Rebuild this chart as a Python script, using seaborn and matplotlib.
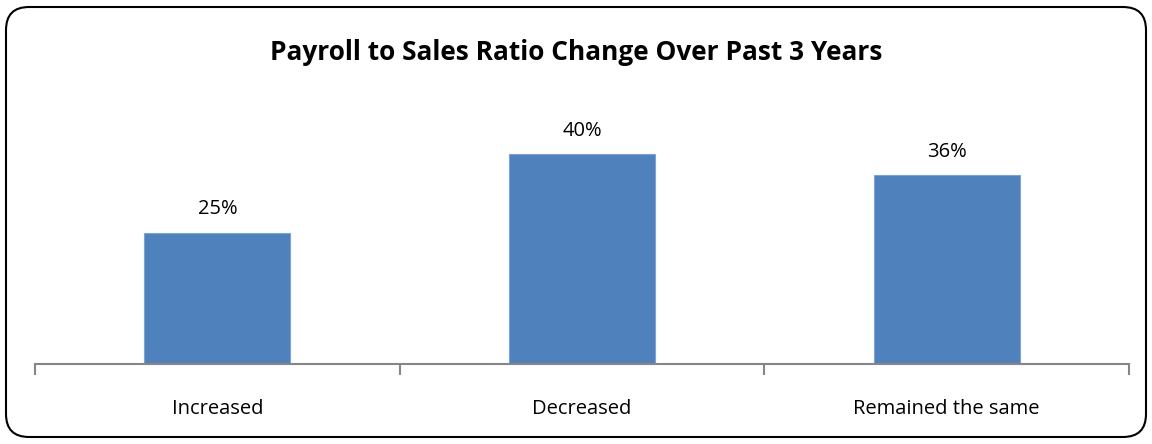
import matplotlib
matplotlib.use("Agg")
import matplotlib.pyplot as plt
import seaborn as sns
import pandas as pd
from matplotlib.patches import FancyBboxPatch

categories = ["Increased", "Decreased", "Remained the same"]
values = [25, 40, 36]
labels = ["25%", "40%", "36%"]
title = "Payroll to Sales Ratio Change Over Past 3 Years"

sns.set_style("white")
plt.rcParams['font.family'] = ['Open Sans', 'DejaVu Sans']
plt.rcParams['text.color'] = 'black'
plt.rcParams['xtick.color'] = 'black'

fig = plt.figure(figsize=(11.52, 4.44), dpi=100)
ax = fig.add_axes([35/1152, 80/444, (1129-35)/1152, 262/444])

df = pd.DataFrame({"cat": categories, "val": values})
sns.barplot(data=df, x="cat", y="val", color="#4F81BD", width=0.4, saturation=1,
            ax=ax, edgecolor="#7FA3D0", linewidth=0.8)

for i, (v, l) in enumerate(zip(values, labels)):
    ax.text(i, v + 2.6, l, ha="center", va="bottom", fontsize=14.5, color="black")

ax.set_ylim(0, 50)
ax.set_xlim(-0.5, 2.5)
ax.set_xlabel("")
ax.set_ylabel("")
ax.set_yticks([])
for s in ["top", "right", "left"]:
    ax.spines[s].set_visible(False)
ax.spines["bottom"].set_color("#868686")
ax.spines["bottom"].set_linewidth(1.5)

ax.set_xticks([-0.5, 0.5, 1.5, 2.5])
ax.set_xticklabels([])
ax.tick_params(axis="x", which="major", length=8, width=1.5, color="#868686", direction="out", bottom=True)
ax.set_xticks([0, 1, 2], minor=True)
ax.set_xticklabels(categories, minor=True)
ax.tick_params(axis="x", which="minor", length=0, pad=25, labelsize=14.5, labelcolor="black")

fig.text(0.5, 1 - 52/444, title, ha="center", va="center", fontsize=18.9, fontweight="bold", color="black")

box = FancyBboxPatch((6/1152, 7/444), (1146-6)/1152, (437-7)/444,
                     boxstyle="round,pad=0,rounding_size=0.02",
                     transform=fig.transFigure, fill=False, edgecolor="black", linewidth=1.5,
                     mutation_aspect=1152/444)
fig.patches.append(box)

fig.savefig("out.png", dpi=100)
